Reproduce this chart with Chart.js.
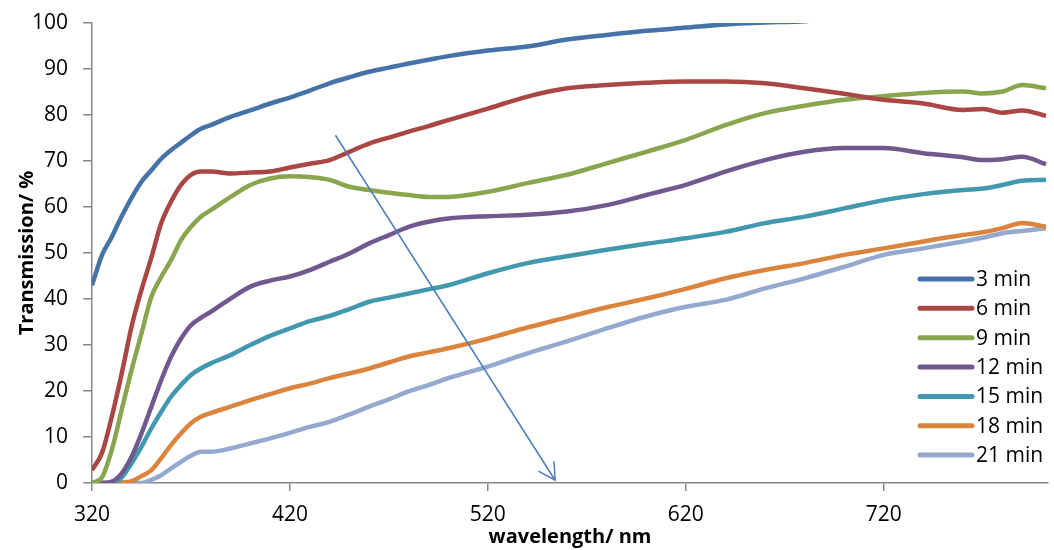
<!DOCTYPE html>
<html>
<head>
<meta charset="utf-8">
<script src="https://cdn.jsdelivr.net/npm/chart.js@4.4.1/dist/chart.umd.min.js"></script>
<style>
html, body { margin: 0; padding: 0; background: #fff; }
#wrap { width: 1054px; height: 550px; }
</style>
</head>
<body>
<div id="wrap"><canvas id="spectra"></canvas></div>
<script>
/*===== DATA =====*/

const wavelengths = [320, 325, 330, 335, 340, 345, 350, 355, 360, 365, 370, 375, 380,
    390, 400, 410, 420, 430, 440, 450, 460, 470, 480, 490, 500,
    520, 540, 560, 580, 600, 620, 640, 660, 680, 700, 720, 740, 760,
    770, 780, 790, 802];

const min3 = [43, 49.5, 53.5, 58, 62, 65.5, 68, 70.5, 72.4, 74, 75.6, 77, 77.8,
    79.6, 81, 82.5, 83.8, 85.3, 86.9, 88.2, 89.4, 90.3, 91.2, 92, 92.8,
    94, 94.9, 96.4, 97.4, 98.3, 99, 99.7, 100.1, 100.4, 101.2, 101.7, 102, 102.3,
    102.5, 102.6, 102.8, 103];
const min6 = [2.8, 6.5, 14.4, 23.8, 34, 42, 49, 56.5, 61.2, 64.8, 67, 67.7, 67.7,
    67.3, 67.5, 67.7, 68.6, 69.4, 70.2, 72, 73.8, 75.1, 76.4, 77.6, 78.9,
    81.4, 84, 85.8, 86.5, 87, 87.3, 87.3, 86.9, 85.8, 84.6, 83.3, 82.5, 81.1,
    81.3, 80.5, 81, 79.8];
const min9 = [0, 1.2, 7.2, 15.9, 24.6, 32.5, 40.5, 44.8, 48.5, 52.8, 55.7, 57.9, 59.3,
    62.2, 64.8, 66.2, 66.7, 66.5, 65.9, 64.4, 63.7, 63.1, 62.6, 62.2, 62.2,
    63.3, 65.2, 67, 69.5, 72, 74.6, 77.8, 80.4, 82, 83.3, 84.1, 84.8, 85.1,
    84.7, 85.1, 86.5, 85.8];
const min12 = [0, 0, 0.3, 2.1, 5.7, 10.8, 16.6, 22.4, 27.5, 31.4, 34.3, 35.9, 37.2,
    40.1, 42.7, 44, 44.9, 46.3, 48.1, 49.9, 52.1, 53.9, 55.7, 56.8, 57.5,
    58, 58.3, 59, 60.4, 62.6, 64.8, 67.7, 70.2, 72, 72.8, 72.8, 71.7, 70.8,
    70.2, 70.4, 70.9, 69.3];
const min15 = [0, 0, 0, 1.2, 4.3, 7.9, 11.9, 15.5, 18.8, 21.3, 23.5, 24.9, 26,
    27.8, 30, 32, 33.6, 35.2, 36.3, 37.8, 39.4, 40.3, 41.2, 42.1, 43,
    45.6, 47.8, 49.3, 50.7, 52, 53.2, 54.6, 56.5, 57.9, 59.7, 61.5, 62.8, 63.7,
    64, 64.8, 65.7, 65.9];
const min18 = [0, 0, 0, 0.1, 0.4, 1.5, 2.8, 5.4, 8.3, 10.8, 13, 14.4, 15.2,
    16.6, 18, 19.3, 20.6, 21.6, 22.8, 23.8, 24.9, 26.2, 27.5, 28.4, 29.3,
    31.4, 33.8, 36, 38.2, 40.1, 42.2, 44.5, 46.3, 47.8, 49.6, 51, 52.5, 53.9,
    54.5, 55.4, 56.5, 55.7];
const min21 = [0, 0, 0, 0, 0, 0, 0.7, 1.7, 3.2, 4.6, 5.9, 6.8, 6.8,
    7.5, 8.6, 9.7, 10.9, 12.2, 13.3, 14.9, 16.6, 18.2, 19.9, 21.3, 22.8,
    25.3, 28.2, 30.8, 33.6, 36.2, 38.3, 39.8, 42.3, 44.5, 47, 49.6, 51, 52.5,
    53.3, 54.3, 54.8, 55.4];

const seriesNames = ["3 min", "6 min", "9 min", "12 min", "15 min", "18 min", "21 min"];
const seriesValues = [min3, min6, min9, min12, min15, min18, min21];
const seriesColours = ["#4572A7", "#AA4643", "#89A54E", "#71588F", "#4198AF", "#DB843D", "#93A9CF"];

const xTicks = [320, 420, 520, 620, 720];

// arrow drawn over the spectra, in data units
const arrowFrom = { x: 443, y: 75.6 };
const arrowTo = { x: 554, y: 0.6 };

/*===== PLUGINS =====*/

var arrowPlugin = {
    id: "arrow",
    afterDatasetsDraw: function(chart) {
        var xs = chart.scales.x, ys = chart.scales.y, ctx = chart.ctx;
        var x0 = xs.getPixelForValue(arrowFrom.x), y0 = ys.getPixelForValue(arrowFrom.y);
        var x1 = xs.getPixelForValue(arrowTo.x), y1 = ys.getPixelForValue(arrowTo.y);
        var back = Math.atan2(y0 - y1, x0 - x1);
        var spread = 29 * Math.PI / 180, len = 19;
        ctx.save();
        ctx.strokeStyle = "#4A7EBB";
        ctx.lineWidth = 1.5;
        ctx.beginPath();
        ctx.moveTo(x0, y0);
        ctx.lineTo(x1, y1);
        ctx.moveTo(x1 + len * Math.cos(back - spread), y1 + len * Math.sin(back - spread));
        ctx.lineTo(x1, y1);
        ctx.lineTo(x1 + len * Math.cos(back + spread), y1 + len * Math.sin(back + spread));
        ctx.stroke();
        ctx.restore();
    }
};

var legendPlugin = {
    id: "insideLegend",
    afterDraw: function(chart) {
        var ctx = chart.ctx;
        ctx.save();
        ctx.font = '21px "Open Sans"';
        ctx.textBaseline = "middle";
        chart.data.datasets.forEach(function(ds, i) {
            var y = 279 + i * 29.35;
            ctx.strokeStyle = ds.borderColor;
            ctx.lineWidth = 5;
            ctx.lineCap = "round";
            ctx.beginPath();
            ctx.moveTo(920, y);
            ctx.lineTo(972, y);
            ctx.stroke();
            ctx.fillStyle = "#000";
            ctx.fillText(ds.label, 976, y + 1);
        });
        ctx.restore();
    }
};

/*===== CHART =====*/

Chart.defaults.font.family = '"Open Sans", sans-serif';
Chart.defaults.color = "#000";

new Chart("spectra", {
    type: "line",
    data: {
        datasets: seriesNames.map(function(name, i) {
            return {
                label: name,
                data: wavelengths.map(function(w, j) { return { x: w, y: seriesValues[i][j] }; }),
                borderColor: seriesColours[i],
                backgroundColor: seriesColours[i],
                borderWidth: 4.5,
                pointRadius: 0,
                cubicInterpolationMode: "monotone",
                fill: false
            };
        })
    },
    options: {
        responsive: true,
        maintainAspectRatio: false,
        animation: false,
        layout: { padding: { top: 23, right: 6, left: 0, bottom: 0 } },
        plugins: {
            legend: { display: false },
            tooltip: { enabled: false }
        },
        scales: {
            x: {
                type: "linear",
                min: 320,
                max: 803,
                afterBuildTicks: function(s) { s.ticks = xTicks.map(function(v) { return { value: v }; }); },
                afterFit: function(s) { s.height = 67; s.paddingLeft = 0; s.paddingRight = 0; },
                grid: { drawOnChartArea: false, drawTicks: true, tickLength: 8, color: "#868686", lineWidth: 1.5 },
                border: { color: "#868686", width: 1.5 },
                ticks: { font: { size: 21 }, padding: 11, maxRotation: 0, autoSkip: false },
                title: { display: true, text: "wavelength/ nm", font: { size: 20, weight: "bold" }, padding: { top: 0, bottom: 1 } }
            },
            y: {
                min: 0,
                max: 100,
                afterFit: function(s) { s.width = 92; s.paddingTop = 0; s.paddingBottom = 0; },
                grid: { drawOnChartArea: false, drawTicks: true, tickLength: 9, color: "#868686", lineWidth: 1.5 },
                border: { color: "#868686", width: 1.5 },
                ticks: { stepSize: 10, font: { size: 21 }, padding: 15 },
                title: { display: true, text: "Transmission/ %", font: { size: 20, weight: "bold" }, padding: { top: 15, bottom: 0 } }
            }
        }
    },
    plugins: [arrowPlugin, legendPlugin]
});
</script>
</body>
</html>
